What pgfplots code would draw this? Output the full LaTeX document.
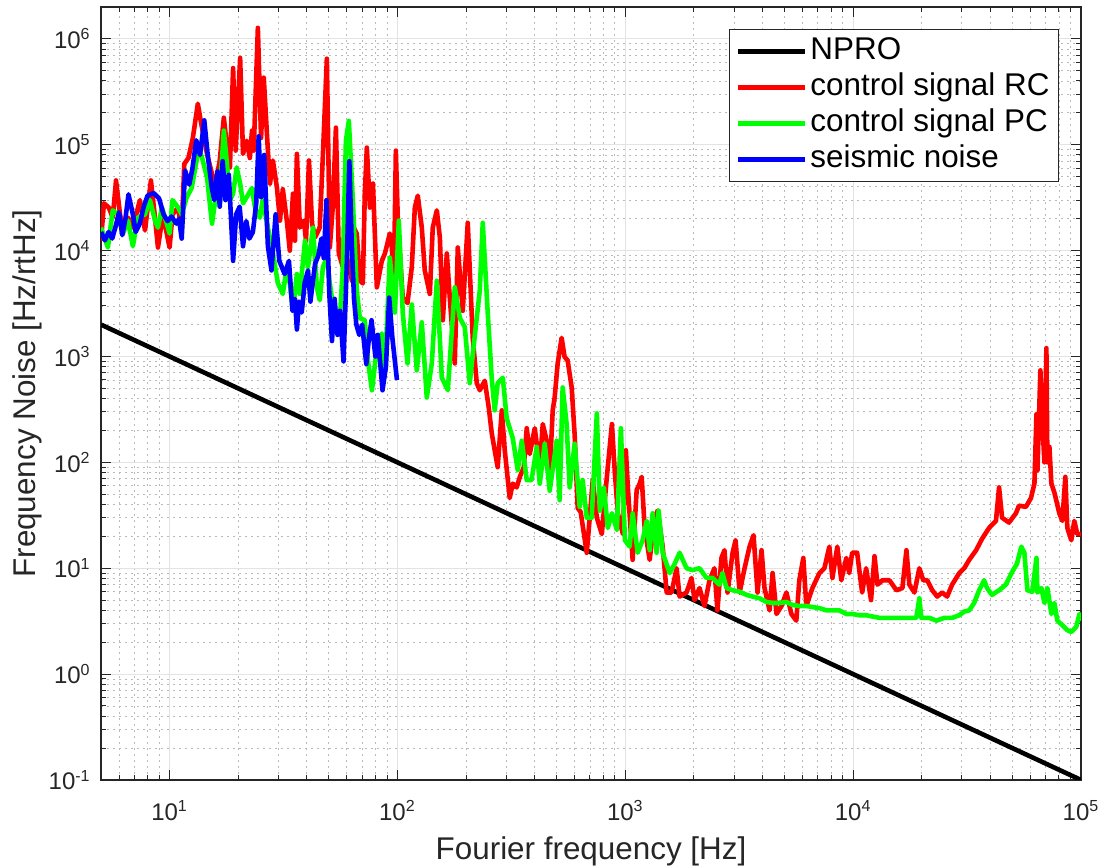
\documentclass[border=0pt]{standalone}
\usepackage{fontspec}
\setmainfont{Liberation Sans}
\usepackage{pgfplots}
\pgfplotsset{compat=1.18}
\definecolor{axgray}{gray}{0.15}
\begin{document}
\begin{tikzpicture}
\begin{axis}[
  name=ax,
  xmode=log, ymode=log,
  scale only axis, width=490pt, height=386.5pt,
  xmin=5, xmax=1e5, ymin=0.1, ymax=2e6,
  xtick={10,100,1000,10000,100000},
  xticklabels={10\textsuperscript{1},10\textsuperscript{2},10\textsuperscript{3},10\textsuperscript{4},10\textsuperscript{5}},
  ytick={0.1,1,10,100,1000,10000,100000,1000000},
  yticklabels={10\textsuperscript{-1},10\textsuperscript{0},10\textsuperscript{1},10\textsuperscript{2},10\textsuperscript{3},10\textsuperscript{4},10\textsuperscript{5},10\textsuperscript{6}},
  minor xtick={6,7,8,9,20,30,40,50,60,70,80,90,200,300,400,500,600,700,800,900,2000,3000,4000,5000,6000,7000,8000,9000,20000,30000,40000,50000,60000,70000,80000,90000},
  minor ytick={0.2,0.3,0.4,0.5,0.6,0.7,0.8,0.9,2,3,4,5,6,7,8,9,20,30,40,50,60,70,80,90,200,300,400,500,600,700,800,900,2000,3000,4000,5000,6000,7000,8000,9000,20000,30000,40000,50000,60000,70000,80000,90000,200000,300000,400000,500000,600000,700000,800000,900000},
  tick align=inside,
  major tick length=5pt, minor tick length=2.5pt,
  tick style={color=axgray, line width=0.5pt},
  axis line style={color=axgray, line width=0.6pt},
  grid=both,
  major grid style={color=gray!22, line width=0.5pt},
  minor grid style={color=gray!55, line width=0.4pt, dash pattern=on 0.8pt off 2.2pt},
  ticklabel style={font=\fontsize{12}{14}\selectfont, text=axgray, inner sep=0pt},
  xticklabel style={anchor=north, yshift=-10pt},
  yticklabel style={anchor=east, xshift=-5pt},
  xlabel={Fourier frequency [Hz]},
  ylabel={Frequency Noise [Hz/rtHz]},
  label style={font=\fontsize{15.7}{19}\selectfont, text=axgray, inner sep=0pt},
  xlabel style={at={(axis description cs:0.5,0)}, anchor=center, yshift=-35.5pt},
  ylabel style={at={(axis description cs:0,0.5)}, anchor=center, yshift=37pt},
  legend style={at={(0.9776,0.9715)}, anchor=north east, draw=axgray, line width=0.5pt,
    font=\fontsize{15.7}{19}\selectfont, inner xsep=3pt, inner ysep=2pt,
    nodes={inner sep=1.5pt, text height=11.5pt, text depth=3.5pt}},
  legend cell align=left,
  legend image code/.code={\draw[#1, line width=2.3pt] (0pt,0pt) -- (33.5pt,0pt);},
  every axis plot/.append style={line width=2.3pt, line join=round},
]
\addplot[black, no markers] coordinates {(5,2000)(100000,0.1)};
\addlegendentry{NPRO}
\addplot[red, no markers] coordinates {
(5.0,1.24e4)(5.15,2.8e4)(5.41,2.55e4)(5.63,2.05e4)(5.82,4.6e4)(6.06,2.2e4)(6.25,1.55e4)(6.57,2.05e4)(6.9,1.65e4)(7.41,3.0e4)(7.8,1.55e4)(8.28,4.6e4)(8.63,2.05e4)(8.89,1.07e4)(9.35,2.2e4)(10.0,1.07e4)(10.3,2.2e4)(10.9,2.55e4)(11.3,1.55e4)(11.6,6.6e4)(12.1,7.5e4)(12.65,1.16e5)(13.3,2.44e5)(13.7,1.68e5)(14.6,8.2e4)(15.35,5.3e4)(15.8,3.9e4)(16.6,7.1e4)(17.3,1.8e5)(18.0,8.2e4)(18.4,6.1e4)(19.0,5.3e5)(19.5,8.8e4)(20.4,6.6e5)(21.0,8.2e4)(21.8,1.09e5)(22.5,7.5e4)(23.0,1.36e5)(23.4,8.8e4)(24.4,1.27e6)(25.2,1.16e5)(25.9,4.3e5)(27.0,8.8e4)(27.6,4.3e4)(28.4,7.1e4)(29.6,3.9e4)(30.5,1.92e4)(31.4,3.8e4)(32.7,1.92e4)(33.7,1.0e4)(34.8,3.45e4)(35.5,1.24e4)(36.2,8.2e4)(37.3,1.65e4)(38.9,1.92e4)(39.7,1.24e4)(40.9,7.1e4)(42.2,1.8e4)(43.5,1.33e4)(45.6,1.65e4)(47.1,8.2e4)(49.0,6.5e5)(50.5,1.07e4)(52.0,2.55e4)(53.7,1.45e5)(55.3,9.4e3)(57.6,7.0e3)(59.4,9.4e3)(62.0,6.5e3)(63.1,5.2e3)(64.3,1.65e4)(66.3,1.45e4)(68.4,5.2e3)(70.5,4.9e3)(71.9,3.45e4)(73.4,9.4e4)(75.7,2.55e4)(78.1,4.3e4)(81.2,4.5e3)(85.4,8.0e3)(88.1,9.4e3)(92.6,1.45e4)(94.5,1.07e4)(96.4,4.5e3)(98.4,8.8e4)(100.4,1.92e4)(105.5,3.6e3)(110.7,3.2e3)(115.6,7.0e3)(119.2,2.55e4)(122.8,3.3e4)(127.9,1.65e4)(131.8,6.5e3)(138.7,3.9e3)(142.9,1.65e4)(148.9,2.4e4)(153.5,1.33e4)(158.2,2.2e3)(164.7,9.4e3)(170,3.4e3)(178.5,8.6e2)(184,1.07e4)(193.5,2.7e3)(203.5,1.83e4)(214,1.5e3)(222.9,5.6e2)(229.8,4.8e2)(241.7,5.9e2)(251.6,3.3e2)(259.2,1.9e2)(267.2,1.3e2)(275.4,90)(287,310)(295.8,130)(311,46)(320.6,63)(333.6,58)(344.5,73)(358.5,90)(369.4,210)(380.8,120)(400.5,210)(421.3,90)(434.2,230)(451.9,160)(465.8,78)(480.2,310)(489.8,410)(504.9,860)(525.5,1500)(541.5,990)(558.2,920)(581.7,510)(599.6,180)(618.1,37)(637,34)(677.3,14)(698.2,30)(719.8,68)(750,30)(788.7,21)(830,73)(873.5,230)(900.5,78)(928,33)(976,21)(1006,130)(1026,58)(1077,12)(1122,55)(1157,63)(1180,73)(1216,24)(1279,12)(1345,30)(1386,35)(1459,16)(1519,5.9)(1596,5.9)(1680,10)(1731,5.4)(1857,5.9)(1953,8.1)(2013,5.0)(2117,6.5)(2226,4.4)(2341,7.7)(2461,10)(2537,4.0)(2642,12.5)(2724,14.8)(2810,5.9)(2957,14)(3048,18.4)(3175,5.9)(3338,10)(3510,16)(3655,20.5)(3806,5.9)(3963,14.8)(4083,6.5)(4296,4.0)(4430,9.0)(4610,3.7)(4848,4.4)(5094,5.9)(5356,3.7)(5630,3.2)(5804,7.7)(6044,12.5)(6230,4.4)(6625,6.5)(7114,9.0)(7480,10)(7864,16)(8107,8.1)(8522,16)(8870,7.7)(9330,12.5)(9611,9.0)(9900,14)(10410,14)(10950,5.9)(11400,10)(11980,5.0)(12410,13)(12790,7.0)(13450,7.7)(14430,7.7)(15480,6.2)(16450,6.5)(17130,14.8)(17650,7.0)(18570,5.9)(19520,10)(20320,7.7)(21150,7.7)(22240,6.2)(23380,5.4)(24580,5.9)(25850,5.4)(27180,7.0)(29230,9.0)(30730,10)(32310,12)(34650,14.8)(36800,19)(39480,24)(42340,28)(43690,58)(45030,30)(48300,27)(51800,33)(53400,39)(57300,38)(60300,46)(62460,63)(63740,285)(64390,84)(66340,740)(67730,230)(69090,100)(70490,1200)(71200,100)(72670,140)(74130,63)(76400,52)(80340,33)(82800,28)(85360,73)(87100,24)(90650,18.4)(93440,28)(96330,21)(100000,21)};
\addlegendentry{control signal RC}
\addplot[green, no markers] coordinates {
(5.0,1.65e4)(5.36,1.07e4)(5.63,2.4e4)(5.94,2.2e4)(6.25,1.45e4)(6.57,1.92e4)(6.9,1.1e4)(7.25,2.05e4)(7.8,2.2e4)(8.2,3.0e4)(8.63,1.92e4)(8.89,1.65e4)(9.26,2.55e4)(9.55,2.05e4)(10.0,1.45e4)(10.3,3.0e4)(10.9,2.55e4)(11.3,2.2e4)(11.9,3.2e4)(12.5,3.9e4)(13.2,7.5e4)(13.4,9.4e4)(13.9,7.5e4)(14.6,4.9e4)(15.35,1.8e4)(15.8,2.8e4)(16.6,3.45e4)(17.3,1.36e5)(17.8,7.1e4)(18.4,3.0e4)(19.0,3.45e4)(19.7,6.1e4)(20.4,4.3e4)(21.0,2.8e4)(21.8,3.2e4)(23.0,3.9e4)(23.7,2.55e4)(24.9,2.05e4)(25.6,3.0e4)(27.0,1.65e4)(28.4,9.4e3)(29.9,4.9e3)(31.4,3.9e3)(32.7,7.0e3)(33.7,4.9e3)(34.8,2.7e3)(36.2,6.0e3)(37.3,3.9e3)(39.3,1.24e4)(40.5,7.0e3)(42.6,1.65e4)(44.3,4.5e3)(45.6,3.4e3)(47.1,7.0e3)(49.0,8.6e3)(50.5,4.9e3)(53.2,2.2e3)(55.9,2.3e3)(57.6,7.0e3)(59.4,1.09e5)(61.2,1.68e5)(63.7,3.0e4)(66.3,4.2e3)(68.4,2.3e3)(71.9,2.2e3)(74.2,920)(77.3,480)(81.2,1200)(85.4,1650)(88.1,740)(92.6,8600)(97.4,2600)(101.4,1.92e4)(105.5,2600)(110.7,860)(115.6,3100)(121.6,740)(127.9,2100)(134.5,410)(141.5,860)(148.9,5200)(156.6,630)(166.4,480)(178.5,4500)(188,2300)(197.5,1900)(207.6,560)(218,1500)(229.8,4200)(236.8,1.83e4)(249,2600)(259.2,630)(267.2,310)(275.4,560)(290,630)(301.7,260)(320.6,170)(337.4,84)(351.4,160)(369.4,68)(388,68)(408.6,140)(421.3,63)(443,150)(465.8,54)(499.9,160)(515,44)(530.9,510)(552.6,230)(570,58)(599.6,150)(630.5,38)(650,68)(677.3,30)(712,30)(750.1,290)(773.3,35)(805,58)(838,24)(873.5,33)(918.5,23)(956.5,210)(996,18.4)(1045,16)(1077,33)(1133,14)(1192,18.4)(1241,28)(1279,14.8)(1318,33)(1372,14)(1400,35)(1459,14)(1566,9.0)(1647,11)(1731,14)(1857,10)(1972,9.6)(2117,10)(2271,8.1)(2412,8.1)(2587,7.0)(2669,9.0)(2781,6.5)(2957,6.2)(3175,6.0)(3406,5.6)(3619,5.4)(3885,5.2)(4167,4.8)(4430,4.7)(4749,4.7)(5094,4.8)(5411,4.5)(5804,4.4)(6230,4.4)(6625,4.3)(7114,4.2)(7632,4.0)(8107,4.0)(8694,4.0)(9330,3.7)(9900,3.7)(10620,3.6)(11400,3.6)(12160,3.5)(13050,3.4)(13990,3.4)(14880,3.4)(15970,3.4)(17650,3.4)(18940,3.4)(19520,5.2)(19920,3.4)(21580,3.4)(23210,3.2)(25150,3.4)(27180,3.4)(29230,3.6)(30730,3.9)(32310,4.0)(33970,4.7)(35720,6.2)(37550,7.7)(38700,6.5)(40670,5.6)(43690,6.2)(46800,7.0)(49800,9.2)(52320,11)(54730,16)(56440,14)(58160,6.2)(61170,6.0)(63740,12.5)(64390,5.9)(67030,6.5)(69090,4.7)(71200,6.5)(74130,3.7)(76400,4.7)(78740,3.2)(82800,2.9)(87100,2.6)(90650,2.5)(95350,2.8)(98400,3.7)(100000,3.2)};
\addlegendentry{control signal PC}
\addplot[blue, no markers] coordinates {
(5.0,1.5e4)(5.2,1.25e4)(5.4,1.5e4)(5.6,1.3e4)(5.8,1.7e4)(6.0,2.3e4)(6.2,1.4e4)(6.4,2.0e4)(6.6,3.4e4)(6.9,2.2e4)(7.1,1.5e4)(7.4,1.8e4)(7.7,2.6e4)(8.0,3.3e4)(8.5,3.5e4)(9.0,3.1e4)(9.4,2.2e4)(9.8,1.9e4)(10.2,2.1e4)(10.7,1.8e4)(11.0,2.0e4)(11.3,1.3e4)(11.7,5.7e4)(12.2,4.2e4)(12.6,6.0e4)(13.1,1.1e5)(13.6,8.0e4)(14.2,1.7e5)(14.7,8.0e4)(15.3,4.0e4)(15.7,3.0e4)(16.2,5.6e4)(16.6,2.6e4)(17.1,7.0e4)(17.6,3.0e4)(18.2,5.2e4)(19.0,8.0e3)(19.6,2.2e4)(20.3,2.6e4)(21.0,1.1e4)(21.7,1.9e4)(22.4,1.3e4)(23.2,1.5e4)(24.0,2.8e4)(24.6,1.2e5)(25.2,3.2e4)(26.0,8.0e4)(27.0,1.1e4)(28.0,6.5e3)(29.2,2.2e4)(30.3,8.0e3)(32.0,6.0e3)(33.4,8.0e3)(34.6,2.7e3)(35.5,3.5e3)(36.2,1.8e3)(37.0,3.3e3)(38.0,2.6e3)(39.2,5.0e3)(40.5,6.5e3)(41.5,3.3e3)(43.5,7.5e3)(45,9.0e3)(46.4,1.3e4)(47.5,8.5e3)(48.8,3.0e4)(50.2,4.0e3)(51.6,1.4e3)(53,3.5e3)(54.6,1.6e3)(56,2.7e3)(58,9.0e2)(60,8.0e3)(61.5,7.0e4)(63,1.2e4)(64.5,3.5e3)(66,2.0e3)(68,1.6e3)(70,2.0e3)(73,8.5e2)(75,1.5e3)(77,2.2e3)(80,1.0e3)(82,1.6e3)(86,4.8e2)(89,8.0e2)(92,3.6e3)(95,1.5e3)(99.5,6.0e2)};
\addlegendentry{seismic noise}
\end{axis}
\path ([xshift=-50.5pt,yshift=-43.5pt]ax.south west) rectangle ([xshift=12pt,yshift=3.5pt]ax.north east);
\end{tikzpicture}
\end{document}
